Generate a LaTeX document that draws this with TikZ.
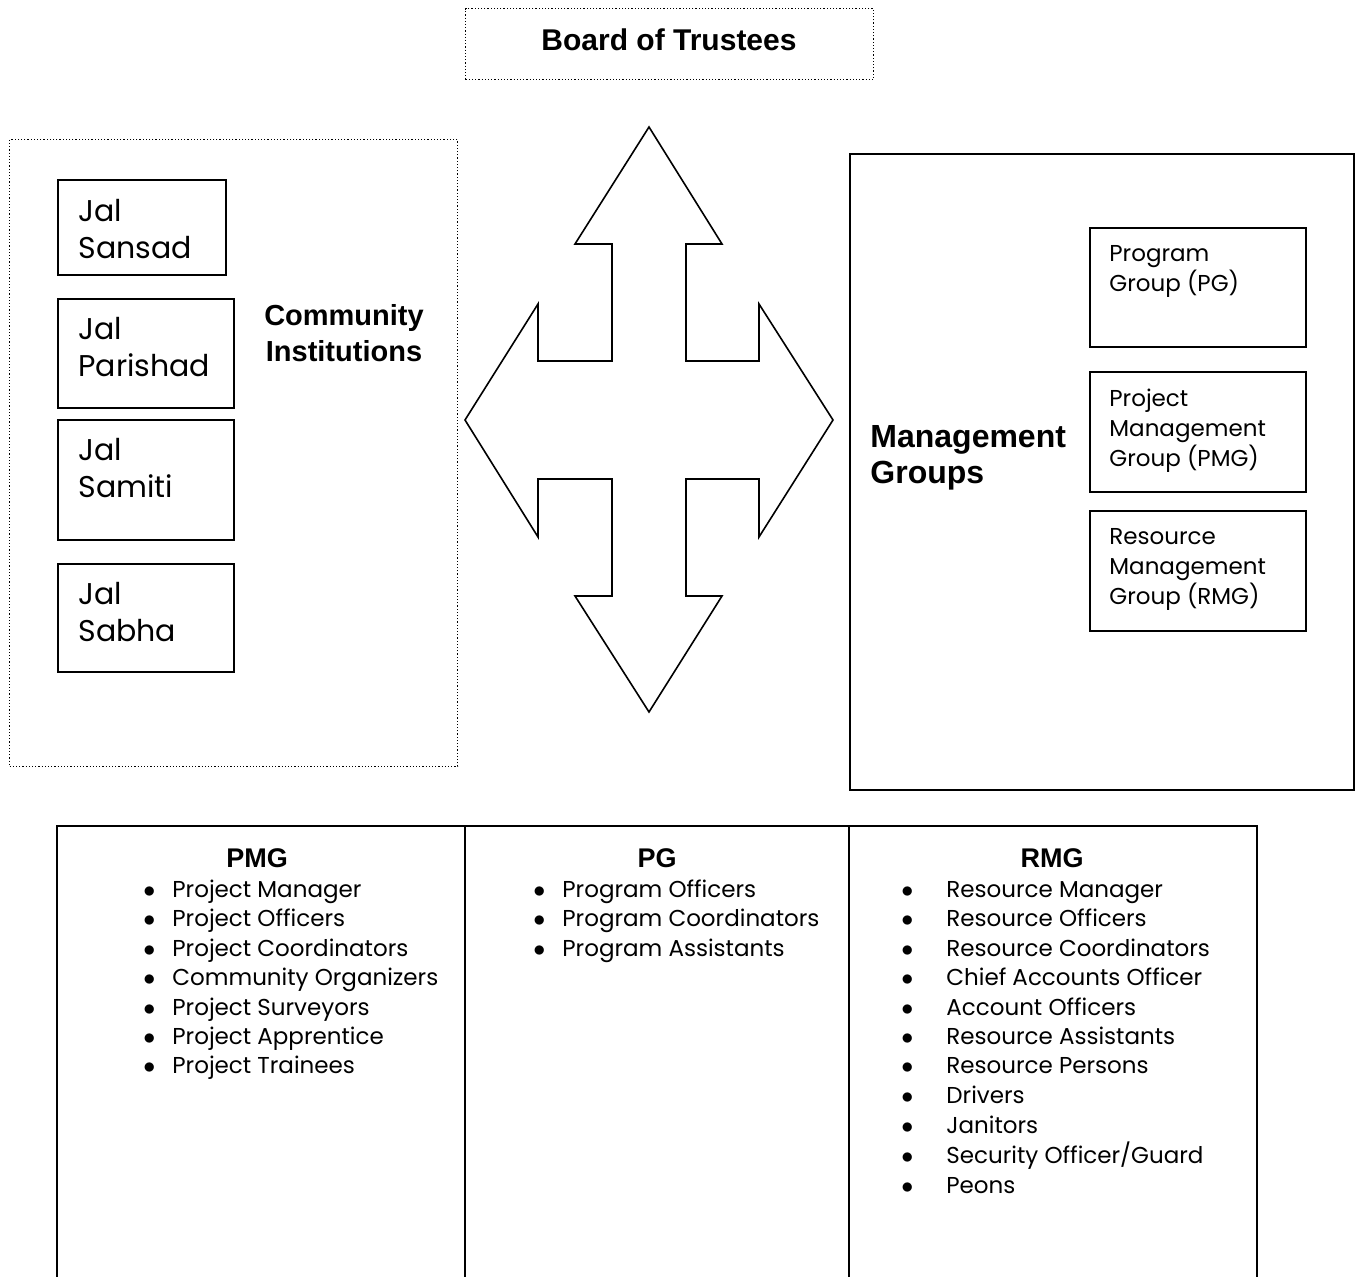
\documentclass[tikz,border=0pt]{standalone}
\usepackage{fontspec}
\setmainfont{Poppins}
\newfontfamily\headfont{Liberation Sans}
\usetikzlibrary{positioning}

\tikzset{
  frame/.style={draw, line width=1pt, inner sep=0pt, anchor=north west},
  dotframe/.style={draw, line width=0.6pt, densely dotted, inner sep=0pt, anchor=north west},
  jaltext/.style={inner sep=0pt, anchor=north west, align=left, font=\fontsize{15}{18.5}\selectfont},
  grptext/.style={inner sep=0pt, anchor=north west, align=left, font=\fontsize{11.5}{15}\selectfont},
  head/.style={inner sep=0pt, font=\headfont\bfseries\fontsize{#1pt}{18pt}\selectfont},
  listtext/.style={inner sep=0pt, anchor=base west, font=\fontsize{11.5}{14.75}\selectfont},
}
\newcommand{\itm}[1][14.5pt]{\makebox[#1][l]{$\bullet$}}

\begin{document}
\begin{tikzpicture}[x=0.5pt, y=-0.5pt]
\useasboundingbox (0,0) rectangle (1360,1277);

% top
\node [dotframe, minimum width=204pt, minimum height=35.5pt] (board) at (465,8) {};
\node [head=15] (boardtxt) at (669,40) {Board of Trustees};

% left block
\node [dotframe, minimum width=224pt, minimum height=313.5pt] (commbox) at (9,139) {};
\node [frame, minimum width=84pt, minimum height=47.5pt] (sansad) at (57,179) {};
\node [frame, minimum width=88pt, minimum height=54.5pt] (parishad) at (57,298) {};
\node [frame, minimum width=88pt, minimum height=60pt] (samiti) at (57,419) {};
\node [frame, minimum width=88pt, minimum height=54pt] (sabha) at (57,563) {};
\node [jaltext, below right=10pt and 10.5pt of sansad.north west] (sansadtxt) {Jal\\Sansad};
\node [jaltext, below right=9.5pt and 10.5pt of parishad.north west] (parishadtxt) {Jal\\Parishad};
\node [jaltext, below right=9.5pt and 10.5pt of samiti.north west] (samititxt) {Jal\\Samiti};
\node [jaltext, below right=9.5pt and 10.5pt of sabha.north west] (sabhatxt) {Jal\\Sabha};
\node [head=14.5, align=center] (commtxt) at (344,333.5) {Community\\Institutions};

% four way arrow
\draw [line width=0.8pt, line join=miter]
  (649,127) -- (722,244) -- (686,244) -- (686,361) -- (759,361) -- (759,304)
  -- (833,420) -- (759,537) -- (759,479) -- (686,479) -- (686,596) -- (722,596)
  -- (649,712) -- (575,596) -- (612,596) -- (612,479) -- (538,479) -- (538,537)
  -- (465,420) -- (538,304) -- (538,361) -- (612,361) -- (612,244) -- (575,244) -- cycle;

% right block
\node [frame, minimum width=252pt, minimum height=318pt] (mgmtbox) at (849,153) {};
\node [frame, minimum width=108pt, minimum height=59.5pt] (pgbox) at (1089,227) {};
\node [frame, minimum width=108pt, minimum height=60pt] (pmgbox) at (1089,371) {};
\node [frame, minimum width=108pt, minimum height=60pt] (rmgbox) at (1089,510) {};
\node [grptext, below right=9pt and 10pt of pgbox.north west] (pgtxt) {Program\\Group (PG)};
\node [grptext, below right=9pt and 10pt of pmgbox.north west] (pmgtxt) {Project\\Management\\Group (PMG)};
\node [grptext, below right=9pt and 10pt of rmgbox.north west] (rmgtxt) {Resource\\Management\\Group (RMG)};
\node [head=16, align=left, anchor=west] (mgmttxt) at (870,458) {Management\\Groups};

% table
\draw [line width=1pt] (57,1290) |- (1257,826) -- (1257,1290);
\draw [line width=1pt] (465,826) -- (465,1290);
\draw [line width=1pt] (849,826) -- (849,1290);
\node [head=13.5, anchor=base] (pmghead) at (257,867) {PMG};
\node [head=13.5, anchor=base] (pghead) at (657,867) {PG};
\node [head=13.5, anchor=base] (rmghead) at (1052,867) {RMG};
\node [listtext] (pmglist) at (143,897) {\begin{tabular}[t]{@{}l@{}}
\itm Project Manager\\
\itm Project Officers\\
\itm Project Coordinators\\
\itm Community Organizers\\
\itm Project Surveyors\\
\itm Project Apprentice\\
\itm Project Trainees
\end{tabular}};
\node [listtext] (pglist) at (533,897) {\begin{tabular}[t]{@{}l@{}}
\itm[14.5pt]Program Officers\\
\itm[14.5pt]Program Coordinators\\
\itm[14.5pt]Program Assistants
\end{tabular}};
\node [listtext] (rmglist) at (901,897) {\begin{tabular}[t]{@{}l@{}}
\itm[22.5pt]Resource Manager\\
\itm[22.5pt]Resource Officers\\
\itm[22.5pt]Resource Coordinators\\
\itm[22.5pt]Chief Accounts Officer\\
\itm[22.5pt]Account Officers\\
\itm[22.5pt]Resource Assistants\\
\itm[22.5pt]Resource Persons\\
\itm[22.5pt]Drivers\\
\itm[22.5pt]Janitors\\
\itm[22.5pt]Security Officer/Guard\\
\itm[22.5pt]Peons
\end{tabular}};
\end{tikzpicture}
\end{document}
